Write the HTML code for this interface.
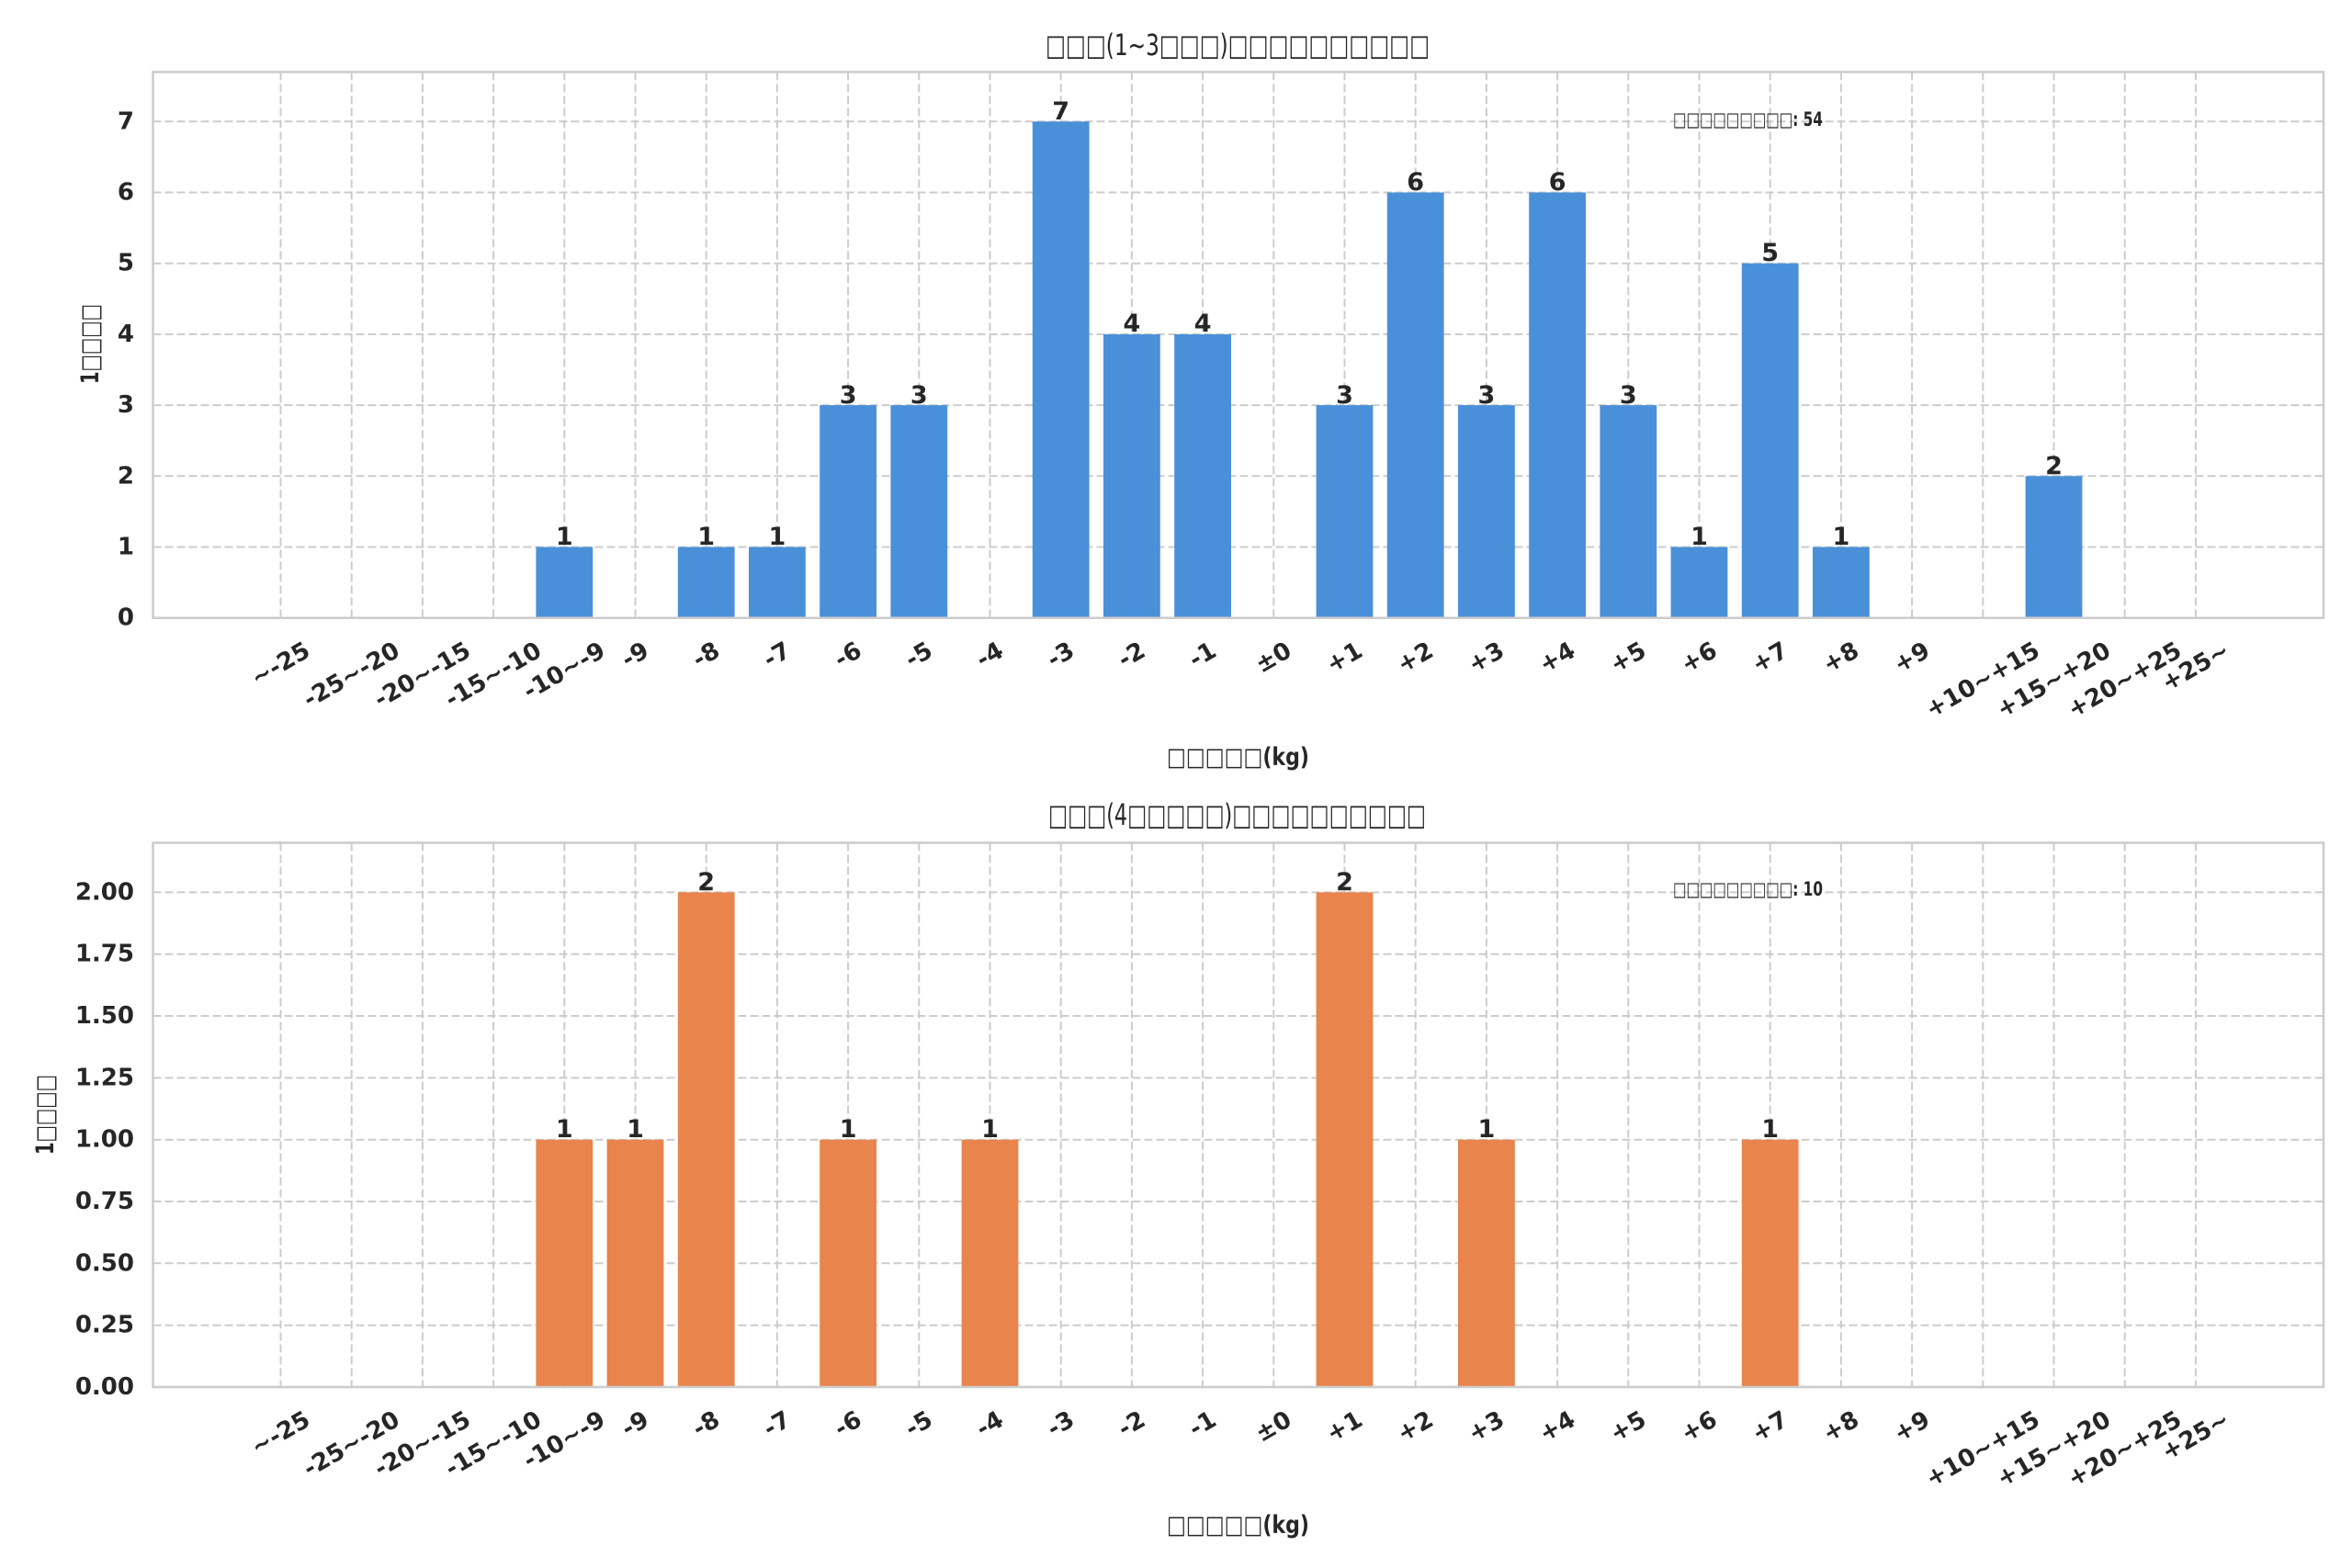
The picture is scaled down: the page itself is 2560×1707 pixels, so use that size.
<!DOCTYPE html>
<html><head><meta charset="utf-8"><style>
html,body{margin:0;padding:0;background:#fff;}
svg{display:block;}
text{font-family:"DejaVu Sans","Liberation Sans","Noto Sans CJK JP",sans-serif;fill:#262626;}
.b{font-weight:bold;}
.tl{font-size:26px;font-weight:bold;}
.bl{font-size:27px;font-weight:bold;text-anchor:middle;}
.g{stroke:#cccccc;stroke-width:2;stroke-dasharray:9,4;fill:none;}
</style></head><body>
<svg width="2560" height="1707" viewBox="0 0 2560 1707" xmlns="http://www.w3.org/2000/svg">
<rect width="2560" height="1707" fill="#fff"/>

<defs>
<g id="vgrid">
<path class="g" d="M305.5 0V594.3M382.7 0V594.3M459.9 0V594.3M537.1 0V594.3M614.3 0V594.3M691.5 0V594.3M768.7 0V594.3M845.9 0V594.3M923.1 0V594.3M1000.3 0V594.3M1077.5 0V594.3M1154.7 0V594.3M1231.9 0V594.3M1309.1 0V594.3M1386.3 0V594.3M1463.5 0V594.3M1540.7 0V594.3M1617.9 0V594.3M1695.1 0V594.3M1772.3 0V594.3M1849.5 0V594.3M1926.7 0V594.3M2003.9 0V594.3M2081.1 0V594.3M2158.3 0V594.3M2235.5 0V594.3M2312.7 0V594.3M2389.9 0V594.3"/>
</g>
</defs>

<!-- ===== Plot 1 ===== -->
<use href="#vgrid" transform="translate(0,78.4)"/>
<path class="g" d="M166.5 595.5H2529M166.5 518.3H2529M166.5 441.1H2529M166.5 363.9H2529M166.5 286.7H2529M166.5 209.5H2529M166.5 132.3H2529"/>
<g fill="#4A90D9">
<rect x="583.4" y="595.5" width="61.8" height="77.2"/>
<rect x="737.8" y="595.5" width="61.8" height="77.2"/>
<rect x="815" y="595.5" width="61.8" height="77.2"/>
<rect x="892.2" y="441.1" width="61.8" height="231.6"/>
<rect x="969.4" y="441.1" width="61.8" height="231.6"/>
<rect x="1123.8" y="132.3" width="61.8" height="540.4"/>
<rect x="1201" y="363.9" width="61.8" height="308.8"/>
<rect x="1278.2" y="363.9" width="61.8" height="308.8"/>
<rect x="1432.6" y="441.1" width="61.8" height="231.6"/>
<rect x="1509.8" y="209.5" width="61.8" height="463.2"/>
<rect x="1587" y="441.1" width="61.8" height="231.6"/>
<rect x="1664.2" y="209.5" width="61.8" height="463.2"/>
<rect x="1741.4" y="441.1" width="61.8" height="231.6"/>
<rect x="1818.6" y="595.5" width="61.8" height="77.2"/>
<rect x="1895.8" y="286.7" width="61.8" height="386"/>
<rect x="1973" y="595.5" width="61.8" height="77.2"/>
<rect x="2204.6" y="518.3" width="61.8" height="154.4"/>
</g>
<rect x="166.5" y="78.4" width="2362.5" height="594.3" fill="none" stroke="#cccccc" stroke-width="2.5"/>
<g class="bl">
<text x="614.3" y="593">1</text><text x="768.7" y="593">1</text><text x="845.9" y="593">1</text>
<text x="923.1" y="439">3</text><text x="1000.3" y="439">3</text><text x="1154.7" y="130">7</text>
<text x="1231.9" y="361">4</text><text x="1309.1" y="361">4</text><text x="1463.5" y="439">3</text>
<text x="1540.7" y="207">6</text><text x="1617.9" y="439">3</text><text x="1695.1" y="207">6</text>
<text x="1772.3" y="439">3</text><text x="1849.5" y="593">1</text><text x="1926.7" y="284">5</text>
<text x="2003.9" y="593">1</text><text x="2235.5" y="516">2</text>
</g>
<g class="tl" text-anchor="end" dominant-baseline="central">
<text x="146" y="672.7">0</text><text x="146" y="595.5">1</text><text x="146" y="518.3">2</text><text x="146" y="441.1">3</text><text x="146" y="363.9">4</text><text x="146" y="286.7">5</text><text x="146" y="209.5">6</text><text x="146" y="132.3">7</text>
</g>
<g id="xl" class="tl" text-anchor="middle" dominant-baseline="central">
<text transform="translate(305.5,723.5) rotate(-30)">~-25</text>
<text transform="translate(382.7,735.2) rotate(-30)">-25~-20</text>
<text transform="translate(459.9,735.2) rotate(-30)">-20~-15</text>
<text transform="translate(537.1,735.2) rotate(-30)">-15~-10</text>
<text transform="translate(614.3,730.7) rotate(-30)">-10~-9</text>
<text transform="translate(691.5,713.5) rotate(-30)">-9</text>
<text transform="translate(768.7,713.5) rotate(-30)">-8</text>
<text transform="translate(845.9,713.5) rotate(-30)">-7</text>
<text transform="translate(923.1,713.5) rotate(-30)">-6</text>
<text transform="translate(1000.3,713.5) rotate(-30)">-5</text>
<text transform="translate(1077.5,713.5) rotate(-30)">-4</text>
<text transform="translate(1154.7,713.5) rotate(-30)">-3</text>
<text transform="translate(1231.9,713.5) rotate(-30)">-2</text>
<text transform="translate(1309.1,713.5) rotate(-30)">-1</text>
<text transform="translate(1386.3,716.2) rotate(-30)">±0</text>
<text transform="translate(1463.5,716.2) rotate(-30)">+1</text>
<text transform="translate(1540.7,716.2) rotate(-30)">+2</text>
<text transform="translate(1617.9,716.2) rotate(-30)">+3</text>
<text transform="translate(1695.1,716.2) rotate(-30)">+4</text>
<text transform="translate(1772.3,716.2) rotate(-30)">+5</text>
<text transform="translate(1849.5,716.2) rotate(-30)">+6</text>
<text transform="translate(1926.7,716.2) rotate(-30)">+7</text>
<text transform="translate(2003.9,716.2) rotate(-30)">+8</text>
<text transform="translate(2081.1,716.2) rotate(-30)">+9</text>
<text transform="translate(2158.3,740.7) rotate(-30)">+10~+15</text>
<text transform="translate(2235.5,740.7) rotate(-30)">+15~+20</text>
<text transform="translate(2312.7,740.7) rotate(-30)">+20~+25</text>
<text transform="translate(2389.9,726.2) rotate(-30)">+25~</text>
</g>
<text x="1138" y="60" font-size="32" textLength="418" lengthAdjust="spacingAndGlyphs">□□□(1~3□□□)□□□□□□□□□□</text>
<text x="1270" y="833" font-size="27" class="b" textLength="155" lengthAdjust="spacingAndGlyphs">□□□□□(kg)</text>
<text transform="translate(107,418) rotate(-90)" font-size="27" class="b" textLength="87" lengthAdjust="spacingAndGlyphs">1□□□□</text>
<text x="1821" y="137" font-size="21" class="b" textLength="163" lengthAdjust="spacingAndGlyphs">□□□□□□□□□: 54</text>

<!-- ===== Plot 2 ===== -->
<use href="#vgrid" transform="translate(0,917.5)"/>
<path class="g" d="M166.5 1442.7H2529M166.5 1375.3H2529M166.5 1308H2529M166.5 1240.7H2529M166.5 1173.4H2529M166.5 1106H2529M166.5 1038.7H2529M166.5 971.4H2529"/>
<g fill="#E8844C">
<rect x="583.4" y="1240.7" width="61.8" height="269.3"/>
<rect x="660.6" y="1240.7" width="61.8" height="269.3"/>
<rect x="737.8" y="971.4" width="61.8" height="538.6"/>
<rect x="892.2" y="1240.7" width="61.8" height="269.3"/>
<rect x="1046.6" y="1240.7" width="61.8" height="269.3"/>
<rect x="1432.6" y="971.4" width="61.8" height="538.6"/>
<rect x="1587" y="1240.7" width="61.8" height="269.3"/>
<rect x="1895.8" y="1240.7" width="61.8" height="269.3"/>
</g>
<rect x="166.5" y="917.5" width="2362.5" height="592.5" fill="none" stroke="#cccccc" stroke-width="2.5"/>
<g class="bl">
<text x="614.3" y="1238">1</text><text x="691.5" y="1238">1</text><text x="768.7" y="969">2</text>
<text x="923.1" y="1238">1</text><text x="1077.5" y="1238">1</text><text x="1463.5" y="969">2</text>
<text x="1617.9" y="1238">1</text><text x="1926.7" y="1238">1</text>
</g>
<g class="tl" text-anchor="end" dominant-baseline="central">
<text x="146" y="1510">0.00</text><text x="146" y="1442.7">0.25</text><text x="146" y="1375.3">0.50</text><text x="146" y="1308">0.75</text><text x="146" y="1240.7">1.00</text><text x="146" y="1173.4">1.25</text><text x="146" y="1106">1.50</text><text x="146" y="1038.7">1.75</text><text x="146" y="971.4">2.00</text>
</g>
<use href="#xl" transform="translate(0,837.3)"/>
<text x="1141" y="898" font-size="32" textLength="411" lengthAdjust="spacingAndGlyphs">□□□(4□□□□□)□□□□□□□□□□</text>
<text x="1270" y="1669" font-size="27" class="b" textLength="155" lengthAdjust="spacingAndGlyphs">□□□□□(kg)</text>
<text transform="translate(58,1257) rotate(-90)" font-size="27" class="b" textLength="87" lengthAdjust="spacingAndGlyphs">1□□□□</text>
<text x="1821" y="975" font-size="21" class="b" textLength="163" lengthAdjust="spacingAndGlyphs">□□□□□□□□□: 10</text>
</svg>
</body></html>
